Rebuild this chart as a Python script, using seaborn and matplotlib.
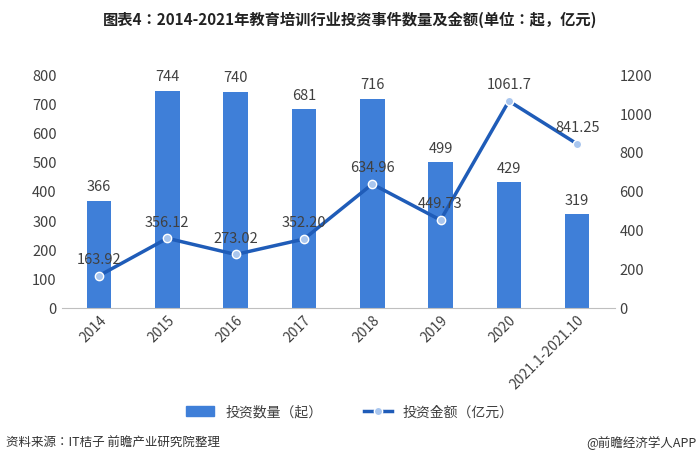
import matplotlib
matplotlib.use("Agg")
import matplotlib.pyplot as plt
from matplotlib import font_manager as fm
import seaborn as sns
import pandas as pd
from matplotlib.lines import Line2D
from matplotlib.patches import Patch

cjk = sorted({f.name for f in fm.fontManager.ttflist if "Sans CJK" in f.name})
pref = [n for n in cjk if "SC" in n] + cjk
plt.rcParams["font.family"] = "sans-serif"
plt.rcParams["font.sans-serif"] = ["DejaVu Sans"] if False else (pref[:1] + ["DejaVu Sans"])
plt.rcParams["axes.unicode_minus"] = False

years = ["2014", "2015", "2016", "2017", "2018", "2019", "2020", "2021.1-2021.10"]
counts = [366, 744, 740, 681, 716, 499, 429, 319]
amounts = [163.92, 356.12, 273.02, 352.20, 634.96, 449.73, 1061.7, 841.25]
amount_labels = ["163.92", "356.12", "273.02", "352.20", "634.96", "449.73", "1061.7", "841.25"]

df = pd.DataFrame({"year": years, "count": counts, "amount": amounts})

fig = plt.figure(figsize=(7.0, 4.64), dpi=100)
ax = fig.add_axes([0.088, 0.335, 0.79, 0.503])
bar_c = "#3f7fd8"
line_c = "#1f5cb8"
sns.barplot(data=df, x="year", y="count", color=bar_c, width=0.36, ax=ax, saturation=1)
ax.set_ylim(0, 800)
ax.set_yticks(range(0, 801, 100))
ax.set_xlabel(""); ax.set_ylabel("")
for i, v in enumerate(counts):
    ax.text(i, v + 25, str(v), ha="center", va="bottom", fontsize=10.5, color="#404040")
ax.tick_params(axis="x", rotation=45, length=0, labelsize=10, colors="#404040")
ax.tick_params(axis="y", length=0, labelsize=10.5, colors="#404040")
for s in ax.spines.values():
    s.set_visible(False)
ax.spines["bottom"].set_visible(True); ax.spines["bottom"].set_color("#bfbfbf")
for lab in ax.get_xticklabels():
    lab.set_ha("right"); lab.set_rotation_mode("anchor")

ax2 = ax.twinx()
sns.lineplot(x=list(range(len(years))), y=amounts, ax=ax2, color=line_c, linewidth=2.5,
             marker="o", markersize=6, markerfacecolor="#a9c6ee", markeredgecolor="white",
             markeredgewidth=1)
ax2.set_ylim(0, 1200)
ax2.set_yticks(range(0, 1201, 200))
ax2.tick_params(axis="y", length=0, labelsize=10.5, colors="#404040")
for s in ax2.spines.values():
    s.set_visible(False)
for i, (v, t) in enumerate(zip(amounts, amount_labels)):
    ax2.text(i, v + 50, t, ha="center", va="bottom", fontsize=10.5, color="#404040")

fig.text(0.5, 0.958, "图表4：2014-2021年教育培训行业投资事件数量及金额(单位：起，亿元)",
         ha="center", va="center", fontsize=11, fontweight="bold", color="#222222")
handles = [Patch(color=bar_c, label="投资数量（起）"),
           Line2D([0], [0], color=line_c, lw=2.5, marker="o", markerfacecolor="#a9c6ee",
                  markeredgecolor="white", label="投资金额（亿元）")]
fig.legend(handles=handles, loc="center", bbox_to_anchor=(0.5, 0.11), ncol=2, frameon=False,
           fontsize=10, labelcolor="#404040", columnspacing=3)
fig.text(0.008, 0.045, "资料来源：IT桔子 前瞻产业研究院整理", fontsize=9, color="#333333", va="center")
fig.text(0.995, 0.045, "@前瞻经济学人APP", fontsize=9, color="#333333", va="center", ha="right")
fig.savefig("out.png", dpi=100)
